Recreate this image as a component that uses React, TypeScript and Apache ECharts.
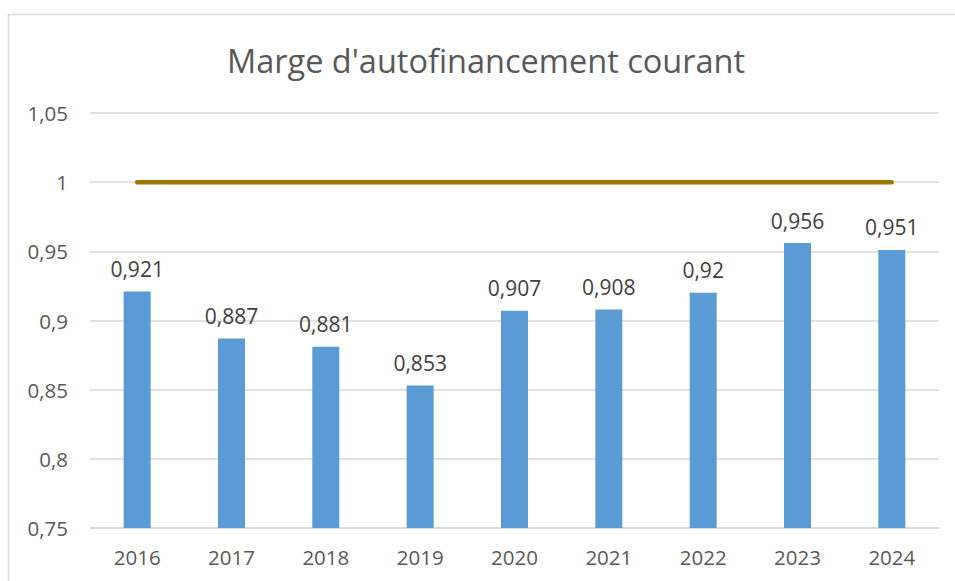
import React, { useEffect, useRef } from "react";
import * as echarts from "echarts";

const categories = ["2016", "2017", "2018", "2019", "2020", "2021", "2022", "2023", "2024"];
const margeValues = [0.921, 0.887, 0.881, 0.853, 0.907, 0.908, 0.92, 0.956, 0.951];
const seuilValues = [1, 1, 1, 1, 1, 1, 1, 1, 1];
const titleText = "Marge d'autofinancement courant";

const fmt = (v: number) => String(v).replace(".", ",");

export default function App() {
  const ref = useRef<HTMLDivElement>(null);
  useEffect(() => {
    if (!ref.current) return;
    const chart = echarts.init(ref.current, null, { renderer: "svg" });
    const font = "'Open Sans', 'Liberation Sans', sans-serif";
    chart.setOption({
      animation: false,
      backgroundColor: "#ffffff",
      textStyle: { fontFamily: font },
      title: {
        text: titleText,
        left: 481,
        textAlign: "center",
        top: 39,
        textStyle: { fontSize: 32.5, fontWeight: "normal", color: "#595959", fontFamily: font },
      },
      graphic: [
        {
          type: "rect",
          shape: { x: 8.5, y: 14.5, width: 1000, height: 700 },
          style: { fill: "none", stroke: "#d9d9d9", lineWidth: 1.5 },
          silent: true,
          z: -1,
        },
      ],
      grid: { left: 90, right: 16, top: 113, bottom: 53 },
      xAxis: {
        type: "category",
        data: categories,
        axisLine: { show: true, lineStyle: { color: "#d9d9d9", width: 1.5 } },
        axisTick: { show: false },
        axisLabel: { color: "#595959", fontSize: 20.5, margin: 18, fontFamily: font },
      },
      yAxis: {
        type: "value",
        min: 0.75,
        max: 1.05,
        interval: 0.05,
        axisLine: { show: false },
        axisTick: { show: false },
        splitLine: { lineStyle: { color: "#d9d9d9", width: 1.5 } },
        axisLabel: {
          color: "#595959",
          fontSize: 20.5,
          margin: 22,
          fontFamily: font,
          formatter: (v: number) => fmt(Math.round(v * 100) / 100),
        },
      },
      series: [
        {
          type: "bar",
          data: margeValues,
          barWidth: 27,
          itemStyle: { color: "#5b9bd5" },
          label: {
            show: true,
            position: "top",
            distance: 12,
            color: "#404040",
            fontSize: 21,
            fontFamily: font,
            formatter: (p: any) => fmt(p.value),
          },
          z: 2,
        },
        {
          type: "line",
          data: seuilValues,
          symbol: "none",
          lineStyle: { color: "#9e7800", width: 4.5, cap: "round" },
          z: 3,
        },
      ],
    });
    return () => chart.dispose();
  }, []);
  return (
    <div
      ref={ref}
      style={{ position: "absolute", left: 0, top: 0, width: 955, height: 581 }}
    />
  );
}
